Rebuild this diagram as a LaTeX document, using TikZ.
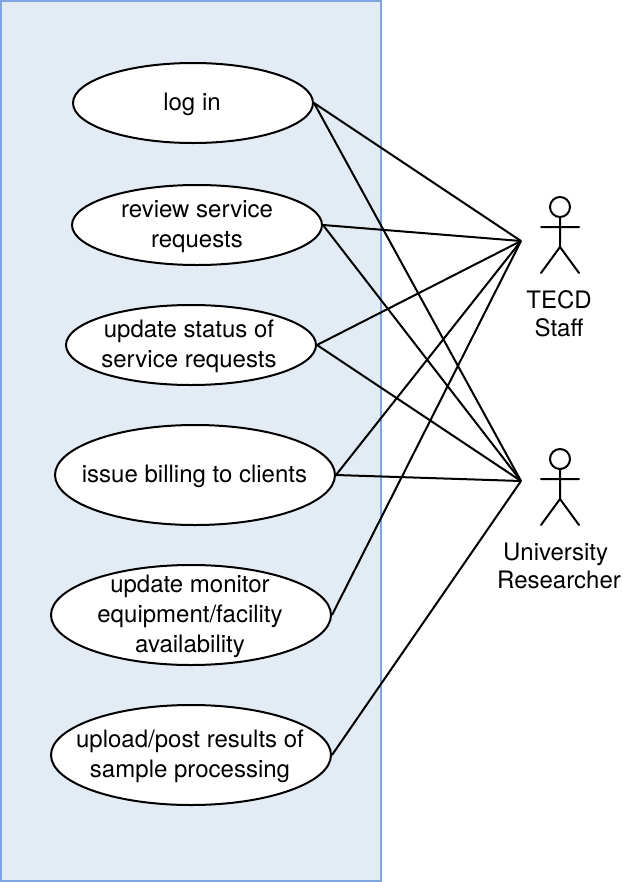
\documentclass[tikz,border=0pt]{standalone}
\usepackage{fontspec}
\setmainfont{TeX Gyre Heros}
\usetikzlibrary{shapes.geometric}
\definecolor{panelfill}{HTML}{E3EBF5}
\definecolor{paneldraw}{HTML}{7EA6E0}
\tikzset{x=0.75pt,y=-0.75pt,
 panel/.style={draw=paneldraw,fill=panelfill,line width=1.5pt},
 lbl/.style={align=center,inner sep=0,font=\fontsize{18pt}{22.5pt}\selectfont},
 actorlbl/.style={align=center,inner sep=0,font=\fontsize{18pt}{21pt}\selectfont},
 usecase/.style={ellipse,draw=black,fill=white,line width=1.5pt,inner sep=0},
 link/.style={draw=black,line width=1.5pt},
 actorline/.style={draw=black,line width=1.5pt,line cap=round}}
\newcommand{\ucase}[7]{\node[usecase,minimum width=#4*0.75pt,minimum height=#5*0.75pt,label={[lbl,xshift=#7*0.75pt,yshift=-1.1pt]center:{#6}}] (#1) at (#2,#3) {};}
\newcommand{\actor}[3]{%
 \coordinate (#1) at (#2,#3);
 \draw[actorline] (#2,#3+10) circle[radius=10];
 \draw[actorline] (#2,#3+20) -- (#2,#3+50) (#2-19,#3+30) -- (#2+19,#3+30) (#2-19,#3+76) -- (#2,#3+50) -- (#2+19,#3+76);}
\begin{document}
\begin{tikzpicture}
\useasboundingbox (0,0) rectangle (622,882);
\draw[panel] (1,1) rectangle (381,881);
\node[inner sep=0] (tip1) at (521,241) {};
\node[inner sep=0] (tip2) at (521,481) {};
\actor{a1}{560}{197}
\actor{a2}{560}{449}
\ucase{uc1}{193}{103}{240}{80}{log in}{-1}
\ucase{uc2}{197}{225}{250}{80}{review service\\requests}{0}
\ucase{uc3}{191}{345}{250}{80}{update status of\\service requests}{-2}
\ucase{uc4}{195}{475}{280}{100}{issue billing to clients}{-0.5}
\ucase{uc5}{191}{615}{280}{100}{update monitor\\equipment/facility\\availability}{-1}
\ucase{uc6}{191}{755}{280}{100}{upload/post results of\\sample processing}{-1}
\node[actorlbl] (t1) at (559,314) {TECD\\Staff};
\node[actorlbl] (t2) at (559,566) {University\kern5pt\\Researcher};
\foreach \u in {uc1,uc2,uc3,uc4,uc5}{\draw[link] (\u.east) -- (tip1.center);}
\foreach \u in {uc1,uc2,uc3,uc4,uc6}{\draw[link] (\u.east) -- (tip2.center);}
\end{tikzpicture}
\end{document}
